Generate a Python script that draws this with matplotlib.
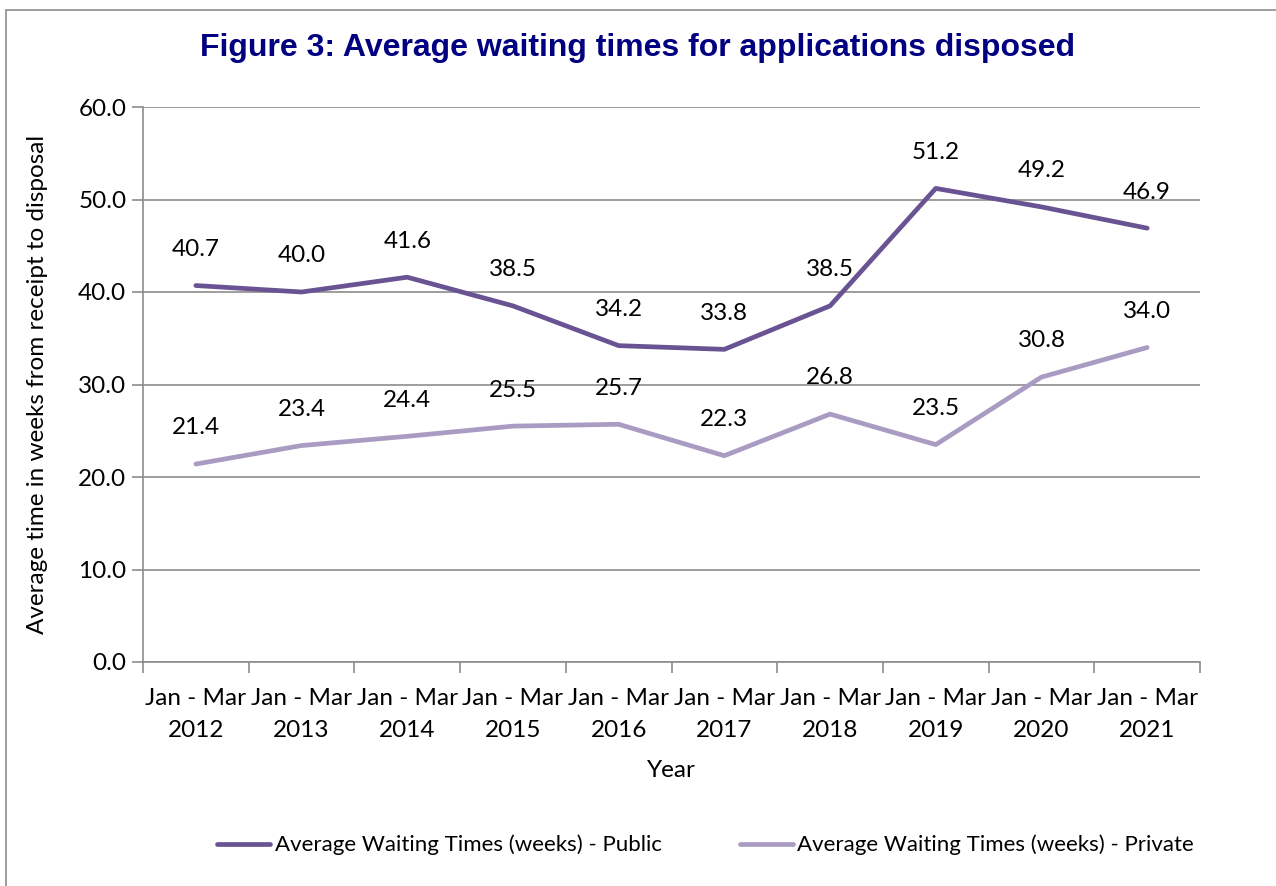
import numpy as np
import matplotlib.pyplot as plt
from matplotlib.patches import Rectangle

# data
years = ["2012", "2013", "2014", "2015", "2016", "2017", "2018", "2019", "2020", "2021"]
public = [40.7, 40.0, 41.6, 38.5, 34.2, 33.8, 38.5, 51.2, 49.2, 46.9]
private = [21.4, 23.4, 24.4, 25.5, 25.7, 22.3, 26.8, 23.5, 30.8, 34.0]
tick_labels = [f"Jan - Mar\n{y}" for y in years]

C_PUB = "#6A5393"
C_PRIV = "#A99BC1"
C_GRID = "#8C8C8C"
FONT = "Lato"
FS = 17.5

plt.rcParams["font.family"] = [FONT, "DejaVu Sans"]

fig = plt.figure(figsize=(12.76, 8.86), dpi=100, facecolor="white")
ax = fig.add_axes([143 / 1276, 1 - 662 / 886, (1200 - 143) / 1276, (662 - 107) / 886])

# outer chart border
fig.patches.append(Rectangle((6 / 1276, -0.05), 1.1, 1 - 10 / 886 + 0.05,
                             transform=fig.transFigure, fill=False,
                             edgecolor="#8C8C8C", lw=1.2))

x = np.arange(len(years))
ax.plot(x, public, color=C_PUB, lw=3.4, solid_capstyle="round", zorder=3,
        label="Average Waiting Times (weeks) - Public")
ax.plot(x, private, color=C_PRIV, lw=3.4, solid_capstyle="round", zorder=3,
        label="Average Waiting Times (weeks) - Private")

for series in (public, private):
    for xi, v in zip(x, series):
        ax.annotate(f"{v:.1f}", (xi, v), textcoords="offset points", xytext=(0, 26),
                    ha="center", va="center", fontsize=FS, color="black")

ax.set_xlim(-0.5, len(years) - 0.5)
ax.set_ylim(0, 60)
ax.set_yticks(np.arange(0, 61, 10))
ax.set_yticklabels([f"{v:.1f}" for v in np.arange(0, 61, 10)], fontsize=FS)
ax.yaxis.grid(True, color=C_GRID, lw=1.2)
ax.set_axisbelow(True)

ax.set_xticks(np.arange(-0.5, len(years), 1.0))
ax.set_xticklabels([])
ax.set_xticks(x, minor=True)
ax.set_xticklabels(tick_labels, minor=True, fontsize=FS, linespacing=1.6)
ax.tick_params(axis="x", which="major", length=8, color=C_GRID, width=1.2)
ax.tick_params(axis="x", which="minor", length=0, pad=19)
ax.tick_params(axis="y", length=8, color=C_GRID, width=1.2, pad=4)

for side in ["top", "right"]:
    ax.spines[side].set_visible(False)
for side in ["left", "bottom"]:
    ax.spines[side].set_color(C_GRID)
    ax.spines[side].set_linewidth(1.2)

ax.set_xlabel("Year", fontsize=FS, labelpad=14)
ax.set_ylabel("Average time in weeks from receipt to disposal", fontsize=FS, labelpad=22)

fig.text(0.5, 1 - 48 / 886, "Figure 3: Average waiting times for applications disposed",
         ha="center", va="center", fontsize=23, fontweight="bold", color="#000080",
         family=["Liberation Sans", "DejaVu Sans"])

fig.legend(loc="center", bbox_to_anchor=(0.553, 1 - 845 / 886), ncol=2, frameon=False,
           fontsize=16, handlelength=2.4, handletextpad=0.2, columnspacing=3.5)

fig.savefig("out.png", dpi=100, facecolor="white")
